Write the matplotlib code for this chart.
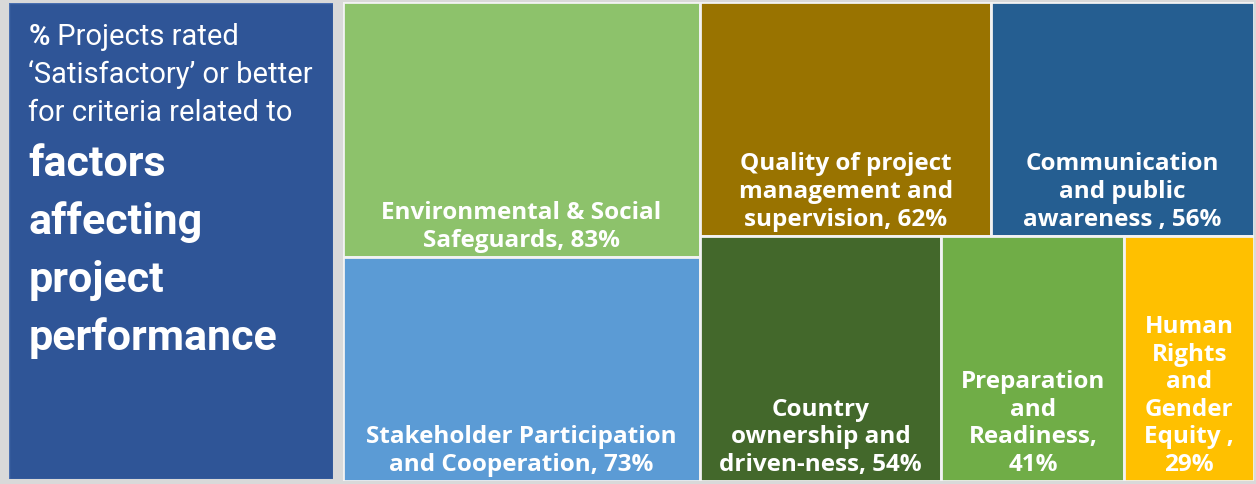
import matplotlib.pyplot as plt
from matplotlib.patches import Rectangle

# treemap data
names = ["Environmental & Social\nSafeguards, ",
         "Stakeholder Participation\nand Cooperation, ",
         "Quality of project\nmanagement and\nsupervision, ",
         "Communication\nand public\nawareness , ",
         "Country\nownership and\ndriven-ness, ",
         "Preparation\nand\nReadiness,\n",
         "Human\nRights\nand\nGender\nEquity ,\n"]
values = [83, 73, 62, 56, 54, 41, 29]
colors = ["#8dc26b", "#5b9bd5", "#997300", "#255e91", "#43682b", "#70ad47", "#ffc000"]
# grouping used by the treemap: first column, then two rows on the right
col1 = [0, 1]
row_top = [2, 3]
row_bot = [4, 5, 6]

W, H = 1256, 485
fig = plt.figure(figsize=(W / 100, H / 100), dpi=100)
fig.patch.set_facecolor("#d9d9d9")

# left title panel
axl = fig.add_axes([9 / W, 5 / H, 324 / W, 476 / H])
axl.set_xlim(0, 1)
axl.set_ylim(0, 1)
axl.axis("off")
axl.add_patch(Rectangle((0, 0), 1, 1, facecolor="#2f5597", edgecolor="#4a6fb0", lw=1))

fam = ["Liberation Sans Narrow", "Roboto", "DejaVu Sans"]
small = ["\u2018Satisfactory\u2019 or better", "for criteria related to"]
big = ["factors", "affecting", "project", "performance"]
x0 = 0.06
t = axl.text(x0, 0.931, "%", color="white", fontsize=21, fontweight="bold",
             family=fam, va="center", ha="left")
fig.canvas.draw()
bb = t.get_window_extent().transformed(axl.transAxes.inverted())
axl.text(bb.x1, 0.931, " Projects rated", color="white", fontsize=21,
         family=fam, va="center", ha="left")
for i, s in enumerate(small):
    axl.text(x0, 0.851 - i * 0.08, s, color="white", fontsize=21, family=fam,
             va="center", ha="left")
for i, s in enumerate(big):
    axl.text(x0, 0.662 - i * 0.121, s, color="white", fontsize=31, fontweight="bold",
             family=fam, va="center", ha="left")

# treemap
ax = fig.add_axes([343 / W, 3 / H, 911 / W, 479 / H])
ax.set_xlim(0, 1)
ax.set_ylim(0, 1)
ax.axis("off")

total = sum(values)
rects = {}
w1 = sum(values[i] for i in col1) / total
y = 1
for i in col1:
    h = values[i] / sum(values[j] for j in col1)
    rects[i] = (0, y - h, w1, h)
    y -= h
rest = total - sum(values[i] for i in col1)
y = 1
for row in [row_top, row_bot]:
    s = sum(values[i] for i in row)
    h = s / rest
    x = w1
    for i in row:
        w = (1 - w1) * values[i] / s
        rects[i] = (x, y - h, w, h)
        x += w
    y -= h

pad = 5 / 479
for i, (x, y, w, h) in rects.items():
    ax.add_patch(Rectangle((x, y), w, h, facecolor=colors[i], edgecolor="#f2f2f2", lw=2))
    ax.text(x + w / 2, y + pad, names[i] + f"{values[i]}%", color="white",
            fontsize=17.5, fontweight="bold", family=["Open Sans", "DejaVu Sans"],
            ha="center", va="bottom", linespacing=1.2, multialignment="center")

fig.savefig("out.png", dpi=100, facecolor=fig.get_facecolor())
